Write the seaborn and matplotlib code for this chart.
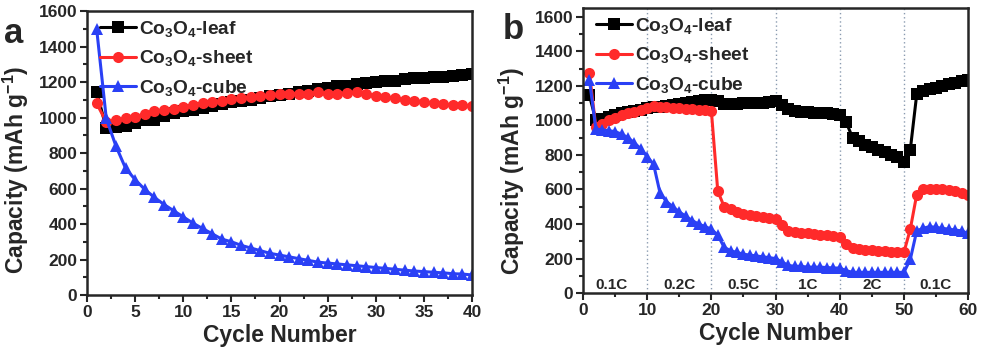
import numpy as np
import pandas as pd
import matplotlib
matplotlib.use("Agg")
import matplotlib.pyplot as plt
import seaborn as sns
from matplotlib.ticker import MultipleLocator

# ---- data: panel a (cycling at 0.1C) ----
cycles_a = list(range(1, 41))
leaf_a = [1145, 940, 945, 955, 970, 985, 985, 1010, 1025, 1035,
          1045, 1055, 1065, 1075, 1085, 1095, 1100, 1110, 1120, 1125,
          1135, 1145, 1150, 1160, 1165, 1175, 1180, 1190, 1195, 1200,
          1205, 1205, 1215, 1220, 1225, 1230, 1230, 1235, 1240, 1245]
sheet_a = [1080, 975, 985, 995, 1005, 1020, 1035, 1045, 1050, 1060,
           1070, 1080, 1090, 1095, 1105, 1110, 1115, 1120, 1125, 1130,
           1135, 1135, 1135, 1145, 1135, 1135, 1140, 1145, 1135, 1120,
           1115, 1110, 1100, 1095, 1090, 1080, 1075, 1070, 1070, 1065]
cube_a = [1500, 995, 840, 715, 650, 595, 550, 510, 475, 440,
          405, 375, 345, 315, 300, 280, 265, 250, 235, 225,
          215, 205, 195, 185, 180, 175, 170, 165, 160, 155,
          150, 145, 140, 135, 132, 128, 125, 120, 118, 113]

# ---- data: panel b (rate capability) ----
cycles_b = list(range(1, 61))
leaf_b = [1145, 1000, 1010, 1020, 1030, 1040, 1050, 1055, 1060, 1070,
          1075, 1080, 1085, 1090, 1095, 1100, 1105, 1110, 1115, 1115,
          1110, 1095, 1095, 1095, 1100, 1100, 1100, 1100, 1105, 1110,
          1090, 1065, 1055, 1050, 1050, 1045, 1040, 1040, 1035, 1030,
          990, 900, 880, 860, 845, 830, 815, 800, 785, 760,
          830, 1150, 1170, 1180, 1190, 1200, 1210, 1215, 1225, 1235]
sheet_b = [1275, 960, 980, 1000, 1015, 1030, 1040, 1050, 1060, 1070,
           1085, 1075, 1075, 1070, 1070, 1065, 1065, 1060, 1060, 1055,
           590, 500, 485, 470, 460, 450, 445, 440, 435, 430,
           395, 360, 355, 350, 345, 340, 335, 335, 330, 325,
           285, 260, 255, 250, 248, 245, 242, 240, 238, 235,
           370, 570, 600, 605, 600, 600, 595, 590, 580, 570]
cube_b = [1235, 950, 945, 940, 935, 920, 900, 870, 835, 790,
          745, 580, 530, 500, 470, 445, 420, 400, 385, 370,
          335, 265, 245, 235, 225, 220, 215, 210, 205, 200,
          180, 160, 155, 155, 150, 150, 150, 148, 145, 145,
          130, 120, 120, 120, 120, 120, 120, 120, 120, 120,
          195, 360, 375, 385, 380, 375, 370, 365, 360, 345]

rate_bounds = [10, 20, 30, 40, 50]
rate_labels = ["0.1C", "0.2C", "0.5C", "1C", "2C", "0.1C"]
rate_label_x = [4.5, 15, 25, 35, 45, 55]

series_names = ["Co$_3$O$_4$-leaf", "Co$_3$O$_4$-sheet", "Co$_3$O$_4$-cube"]
colors = ["#000000", "#FF2A2A", "#2A40F5"]
markers = ["s", "o", "^"]

sns.set_style("ticks")
plt.rcParams["font.family"] = ["Liberation Sans", "DejaVu Sans"]
plt.rcParams["font.weight"] = "bold"
plt.rcParams["mathtext.fontset"] = "custom"
plt.rcParams["mathtext.rm"] = "Liberation Sans:bold"
plt.rcParams["mathtext.bf"] = "Liberation Sans:bold"
plt.rcParams["mathtext.default"] = "bf"

fig = plt.figure(figsize=(9.81, 3.51), dpi=100)
ax_a = fig.add_axes([0.0887, 0.1595, 0.3925, 0.809])
ax_b = fig.add_axes([0.5943, 0.165, 0.3925, 0.812])


def draw(ax, x, ys):
    for name, y, c, m in zip(series_names, ys, colors, markers):
        df = pd.DataFrame({"cycle": x, "cap": y})
        sns.lineplot(data=df, x="cycle", y="cap", ax=ax, color=c, marker=m,
                     markersize=8 if m != "^" else 9, markeredgewidth=0,
                     linewidth=2.2, label=name)


draw(ax_a, cycles_a, [leaf_a, sheet_a, cube_a])
draw(ax_b, cycles_b, [leaf_b, sheet_b, cube_b])

for b in rate_bounds:
    ax_b.axvline(b, color="#8A9BB0", linestyle=(0, (1, 2)), linewidth=1, zorder=0)
for lx, lab in zip(rate_label_x, rate_labels):
    ax_b.text(lx, 46, lab, ha="center", va="center", fontsize=11, fontweight="bold")

for ax, xmax, ymax, xmaj, ly in [(ax_a, 40, 1600, 5, 0.44), (ax_b, 60, 1650, 10, 0.43)]:
    ax.set_xlim(0, xmax)
    ax.set_ylim(0, ymax)
    ax.xaxis.set_major_locator(MultipleLocator(xmaj))
    ax.xaxis.set_minor_locator(MultipleLocator(xmaj / 2))
    ax.yaxis.set_major_locator(MultipleLocator(200))
    ax.yaxis.set_minor_locator(MultipleLocator(100))
    ax.tick_params(which="major", direction="out", length=5, width=1.5,
                   labelsize=12.5, pad=2)
    ax.tick_params(which="minor", direction="out", length=3, width=1.5)
    for s in ax.spines.values():
        s.set_linewidth(1.8)
    for lab in ax.get_xticklabels() + ax.get_yticklabels():
        lab.set_fontweight("bold")
    ax.set_xlabel("Cycle Number", fontsize=16.5, fontweight="bold", labelpad=3)
    ax.set_ylabel("Capacity (mAh g$^{-1}$)", fontsize=16.5, fontweight="bold")
    ax.yaxis.set_label_coords(-0.145, ly)
    leg = ax.legend(loc="upper left", bbox_to_anchor=(0.014, 1.0), frameon=False,
                    fontsize=13.8, handlelength=1.9, handletextpad=0.15,
                    labelspacing=0.5, borderaxespad=0)
    for t in leg.get_texts():
        t.set_fontweight("bold")

fig.text(0.004, 0.952, "a", fontsize=25, fontweight="bold", va="top")
fig.text(0.513, 0.962, "b", fontsize=25, fontweight="bold", va="top")

fig.savefig("out.png", dpi=100)
